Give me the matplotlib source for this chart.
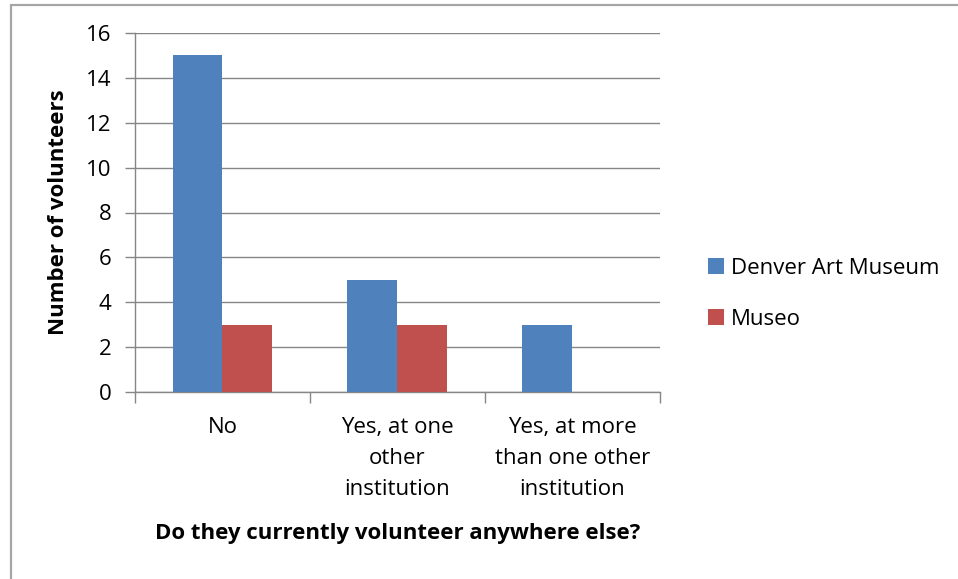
import matplotlib
matplotlib.use("Agg")
import matplotlib.pyplot as plt
from matplotlib.patches import Rectangle
import numpy as np

categories = ["No", "Yes, at one\nother\ninstitution", "Yes, at more\nthan one other\ninstitution"]
denver = [15, 5, 3]
museo = [3, 3, 0]
series_names = ["Denver Art Museum", "Museo"]
y_ticks = [0, 2, 4, 6, 8, 10, 12, 14, 16]

plt.rcParams["font.family"] = ["Open Sans", "DejaVu Sans"]
FS = 16

W, H = 958, 579
fig = plt.figure(figsize=(W / 100, H / 100), dpi=100)
fig.patch.set_facecolor("white")

# chart-area frame (top and left edges visible, the rest runs off the canvas)
fig.add_artist(Rectangle((11 / W, -0.05), 1.1, 1 - 5 / H + 0.05,
                         transform=fig.transFigure, fill=False,
                         edgecolor="#a6a6a6", linewidth=1.6, zorder=0))

left, right, top, bottom = 135, 660, 33, 392
ax = fig.add_axes([left / W, 1 - bottom / H, (right - left) / W, (bottom - top) / H])

x = np.arange(len(categories))
bw = 50 / 175
grid_c = "#868686"
ax.bar(x - bw / 2, denver, width=bw, color="#4F81BD", label=series_names[0], zorder=3)
ax.bar(x + bw / 2, museo, width=bw, color="#C0504D", label=series_names[1], zorder=3)

ax.set_xlim(-0.5, len(categories) - 0.5)
ax.set_ylim(0, 16)
ax.set_yticks(y_ticks)
ax.yaxis.grid(True, color=grid_c, linewidth=1.0, zorder=0)
ax.set_axisbelow(True)

for s in ["top", "right"]:
    ax.spines[s].set_visible(False)
for s in ["left", "bottom"]:
    ax.spines[s].set_color(grid_c)
    ax.spines[s].set_linewidth(1.0)

ax.tick_params(axis="y", direction="out", length=7, width=1.0, color=grid_c,
               labelsize=FS, pad=10, labelcolor="black")
ax.set_xticks(np.arange(-0.5, len(categories), 1.0))
ax.set_xticklabels([])
ax.tick_params(axis="x", which="major", direction="out", length=8, width=1.0, color=grid_c)
ax.set_xticks(x, minor=True)
ax.set_xticklabels(categories, minor=True, fontsize=FS, linespacing=1.62)
ax.tick_params(axis="x", which="minor", length=0, pad=18, labelcolor="black")

ax.set_ylabel("Number of volunteers", fontsize=FS, fontweight="bold", labelpad=12)
fig.text((left + right) / 2 / W, 1 - 533 / H, "Do they currently volunteer anywhere else?",
         ha="center", va="center", fontsize=FS, fontweight="bold")

ax.legend(loc="center left", bbox_to_anchor=(688 / W, 1 - 294 / H),
          bbox_transform=fig.transFigure, frameon=False, fontsize=FS,
          handlelength=0.7, handleheight=0.7, handletextpad=0.35, labelspacing=1.35)

fig.savefig("out.png", dpi=100)
